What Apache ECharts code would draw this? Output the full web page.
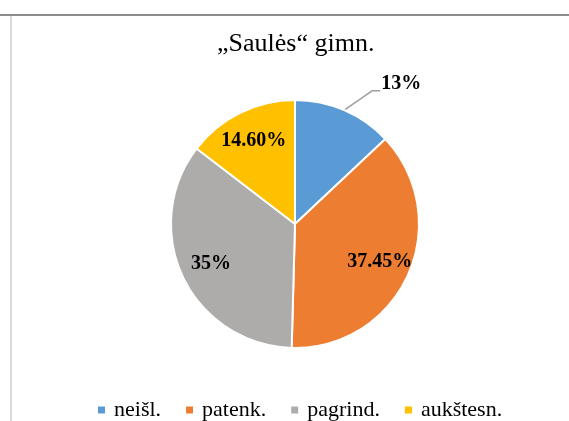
<!DOCTYPE html>
<html>
<head>
<meta charset="utf-8">
<script src="https://cdn.jsdelivr.net/npm/echarts@6/dist/echarts.min.js"></script>
<style>html,body{margin:0;padding:0;background:#fff;}#c{width:569px;height:421px;}</style>
</head>
<body>
<div id="c"></div>
<script>
var titleText = '\u201eSaul\u0117s\u201c gimn.';
var categories = ['nei\u0161l.', 'patenk.', 'pagrind.', 'auk\u0161tesn.'];
var values = [13, 37.45, 35, 14.6];
var valueLabels = ['13%', '37.45%', '35%', '14.60%'];
var colors = ['#5B9BD5', '#ED7D31', '#AEABAB', '#FFC000'];

var serif = 'Liberation Serif';
var chart = echarts.init(document.getElementById('c'), null, {renderer: 'canvas'});

var mainData = categories.map(function (n, i) {
  return {name: n, value: values[i], itemStyle: {color: colors[i]}};
});
var labelData = categories.map(function (n, i) {
  var outside = i === 0;
  return {
    name: n,
    value: values[i],
    label: {position: outside ? 'outside' : 'inside'},
    labelLine: {show: outside}
  };
});

chart.setOption({
  backgroundColor: '#ffffff',
  animation: false,
  textStyle: {fontFamily: serif},
  title: {
    text: titleText,
    left: 212,
    top: 26,
    textStyle: {fontFamily: serif, fontSize: 26, fontWeight: 'normal', color: '#000'}
  },
  legend: {
    data: categories,
    top: 394,
    left: 91,
    itemWidth: 9,
    itemHeight: 9,
    itemGap: 23,
    icon: 'rect',
    formatter: function (name) { return '{t|' + name + '}'; },
    textStyle: {
      fontFamily: serif, fontSize: 22, color: '#000',
      rich: {t: {fontFamily: serif, fontSize: 22, color: '#000', padding: [0, 0, 0, 3]}}
    }
  },
  graphic: [
    {type: 'line', shape: {x1: 0, y1: 15, x2: 569, y2: 15}, style: {stroke: '#8c8c8c', lineWidth: 2}},
    {type: 'line', shape: {x1: 11, y1: 16, x2: 11, y2: 421}, style: {stroke: '#d9d9d9', lineWidth: 2}}
  ],
  series: [
    {
      type: 'pie',
      center: [295, 224],
      radius: [0, 124],
      startAngle: 90,
      clockwise: true,
      silent: true,
      label: {show: false},
      labelLine: {show: false},
      itemStyle: {borderColor: '#ffffff', borderWidth: 2},
      data: mainData
    },
    {
      type: 'pie',
      center: [295, 224],
      radius: [56, 124],
      startAngle: 90,
      clockwise: true,
      silent: true,
      itemStyle: {color: 'rgba(0,0,0,0)', borderWidth: 0},
      label: {
        show: true,
        formatter: function (p) { return valueLabels[p.dataIndex]; },
        fontFamily: serif,
        fontSize: 20,
        fontWeight: 'bold',
        color: '#000'
      },
      labelLine: {
        length: 20,
        length2: 9,
        lineStyle: {color: '#a0a0a0', width: 1.5}
      },
      labelLayout: function (p) {
        if (p.dataIndex === 0 && p.labelLinePoints) {
          var pts = p.labelLinePoints;
          var p1 = [pts[1][0] + 20, pts[1][1] - 1];
          var p2 = [p1[0] + 8, p1[1]];
          return {dx: 15, dy: -8, labelLinePoints: [pts[0], p1, p2]};
        }
        return {};
      },
      data: labelData
    }
  ]
});
</script>
</body>
</html>
